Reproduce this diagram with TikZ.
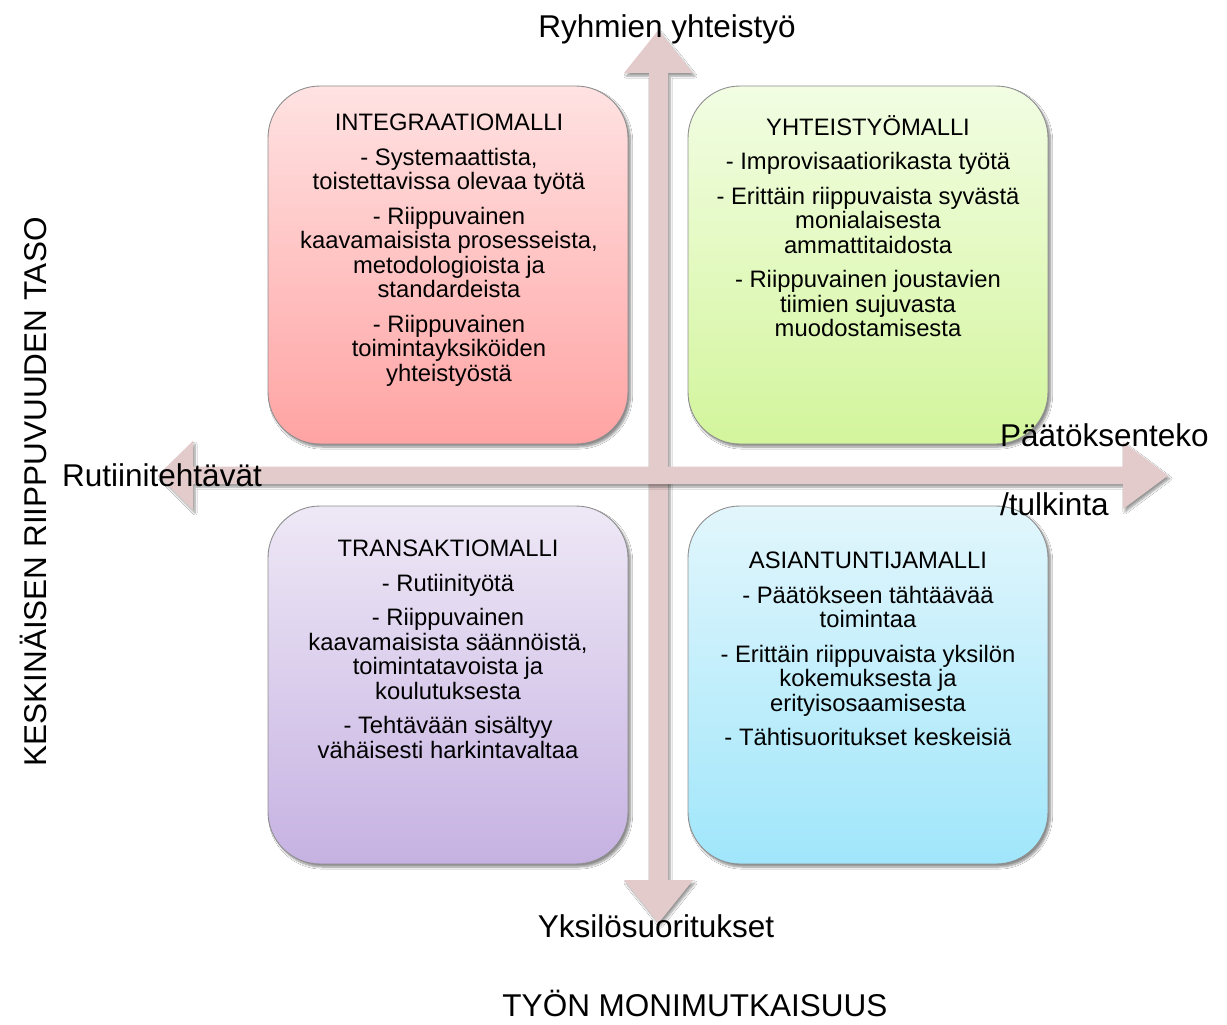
\documentclass[tikz,border=0pt]{standalone}
\usepackage{fontspec}
\setmainfont{Liberation Sans}
\usetikzlibrary{shadows.blur}

% box fill colours (top / bottom of each gradient)
\definecolor{redtop}{HTML}{FFE2E2}
\definecolor{redbot}{HTML}{FFA3A3}
\definecolor{greentop}{HTML}{F2FDE3}
\definecolor{greenbot}{HTML}{D3F59C}
\definecolor{violettop}{HTML}{EEE8F6}
\definecolor{violetbot}{HTML}{C6B2E2}
\definecolor{bluetop}{HTML}{E2F6FC}
\definecolor{bluebot}{HTML}{A0E6FB}
\definecolor{axisfill}{HTML}{E3CBCB}
\definecolor{boxline}{HTML}{8E8E8E}

\tikzset{
  quadbox/.style={draw=boxline, line width=0.9pt, rounded corners=52pt,
    minimum width=360pt, minimum height=358pt, inner sep=0pt,
    blur shadow={shadow xshift=2.5pt, shadow yshift=-3pt, shadow blur steps=8,
                 shadow opacity=45}},
  quadtext/.style={align=center, inner sep=0pt, anchor=north,
    font=\fontsize{23.8}{24.5}\selectfont},
  axislabel/.style={inner sep=0pt, font=\fontsize{31.5}{36}\selectfont},
  blockarrow/.style={fill=axisfill, draw=none,
    blur shadow={shadow xshift=2pt, shadow yshift=-3pt, shadow blur steps=6,
                 shadow opacity=40}},
}

\begin{document}
\begin{tikzpicture}[x=1pt, y=-1pt]
\useasboundingbox[fill=white] (0,0) rectangle (1227,1025);

% crossing axes drawn as block arrows
\path[blockarrow] (658.5,30) -- (693,73) -- (668,73) -- (668,880) -- (693,880)
  -- (658.5,923) -- (624,880) -- (649,880) -- (649,73) -- (624,73) -- cycle;
\path[blockarrow] (158,475) -- (193,441) -- (193,466.5) -- (1123,466.5) -- (1123,442)
  -- (1168,475.5) -- (1123,509) -- (1123,484) -- (193,484) -- (193,510) -- cycle;

% the four quadrants
\node[quadbox, top color=redtop, bottom color=redbot]       (integ)  at (448,265) {};
\node[quadbox, top color=greentop, bottom color=greenbot]   (yhteis) at (868,265) {};
\node[quadbox, top color=violettop, bottom color=violetbot] (trans)  at (448,685) {};
\node[quadbox, top color=bluetop, bottom color=bluebot]     (asiant) at (868,685) {};

\node[quadtext] (integtxt) at (449,114) {INTEGRAATIOMALLI\\[10pt]
  - Systemaattista,\\ toistettavissa olevaa työtä\\[10pt]
  - Riippuvainen\\ kaavamaisista prosesseista,\\ metodologioista ja\\ standardeista\\[10pt]
  - Riippuvainen\\ toimintayksiköiden\\ yhteistyöstä};

\node[quadtext] (yhteistxt) at (868,115) {YHTEISTYÖMALLI\\[10pt]
  - Improvisaatiorikasta työtä\\[10pt]
  - Erittäin riippuvaista syvästä\\ monialaisesta\\ ammattitaidosta\\[10pt]
  - Riippuvainen joustavien\\ tiimien sujuvasta\\ muodostamisesta};

\node[quadtext] (transtxt) at (448,540) {TRANSAKTIOMALLI\\[10pt]
  - Rutiinityötä\\[10pt]
  - Riippuvainen\\ kaavamaisista säännöistä,\\ toimintatavoista ja\\ koulutuksesta\\[10pt]
  - Tehtävään sisältyy\\ vähäisesti harkintavaltaa};

\node[quadtext] (asianttxt) at (868,552) {ASIANTUNTIJAMALLI\\[10pt]
  - Päätökseen tähtäävää\\ toimintaa\\[10pt]
  - Erittäin riippuvaista yksilön\\ kokemuksesta ja\\ erityisosaamisesta\\[10pt]
  - Tähtisuoritukset keskeisiä};

% axis end labels
\node[axislabel, anchor=base] (top)    at (667,38)  {Ryhmien yhteistyö};
\node[axislabel, anchor=base] (bottom) at (656,937) {Yksilösuoritukset};
\node[axislabel, anchor=base west] (left)   at (62,486)  {Rutiinitehtävät};
\node[axislabel, anchor=base west] (right1) at (1000,446) {Päätöksenteko};
\node[axislabel, anchor=base west] (right2) at (1000,515) {/tulkinta};

% axis titles
\node[axislabel, anchor=base] (xtitle) at (695,1016) {TYÖN MONIMUTKAISUUS};
\node[axislabel, rotate=90] (ytitle) at (33,492) {KESKINÄISEN RIIPPUVUUDEN TASO};
\end{tikzpicture}
\end{document}
